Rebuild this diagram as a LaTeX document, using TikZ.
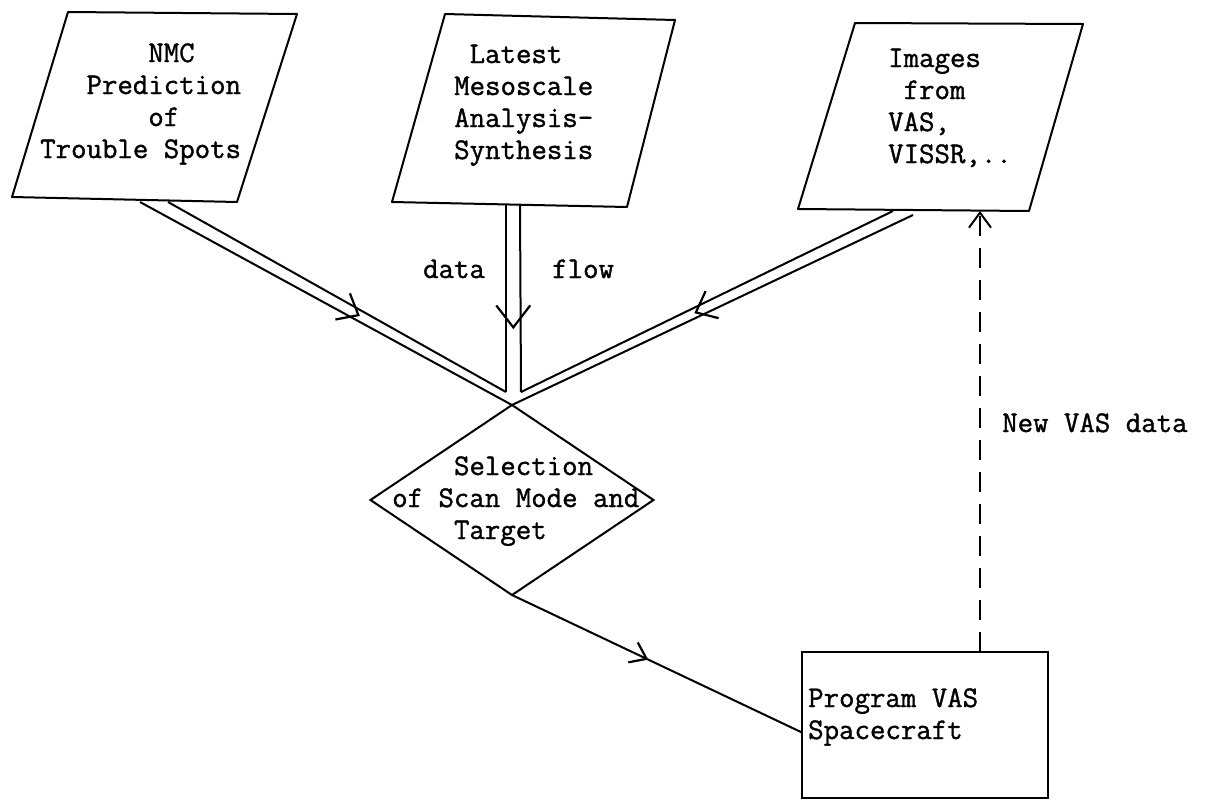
\documentclass[tikz,border=0pt]{standalone}
\usepackage{fontspec}
\newfontfamily\tw{Latin Modern Mono}[FakeBold=1.2]
\usetikzlibrary{arrows.meta,shapes.geometric,decorations.markings,calc}
\newcommand\blk[1]{\vtop{\baselineskip=32pt\lineskiplimit=-50pt #1}}
\newcommand\ind[1]{\phantom{#1}}
\tikzset{
  bb/.tip={Straight Barb[length=18pt,width=30pt]},
  vb/.tip={Straight Barb[length=22pt,width=34pt]},
  sb/.tip={Straight Barb[length=15pt,width=22pt]},
}
\begin{document}
\begin{tikzpicture}[x=1pt,y=-1pt,
  shp/.style={draw, line width=2pt, line join=round},
  flow/.style={line width=2pt},
  txt/.style={inner sep=0pt, anchor=base west, font=\tw\fontsize{30}{32}\selectfont},
  midtip/.style 2 args={postaction={decorate, decoration={markings, mark=at position #1 with {\arrow[line width=2.2pt]{#2}}}}}
]
\useasboundingbox (0,0) rectangle (1211,801);
\fill[white] (0,0) rectangle (1211,801);

% input parallelograms
\draw[shp] (68,12) -- (297,14) -- (237,202) -- (12,197) -- cycle;
\node[txt] (nmc) at (40,62) {\blk{\hbox{\ind{xxxxxxx}NMC}\hbox{\ind{xxx}Prediction}\hbox{\ind{xxxxxxx}of}\hbox{Trouble Spots}}};

\draw[shp] (445,14) -- (675,20) -- (627,207) -- (392,202) -- cycle;
\node[txt] (latest) at (454,63) {\blk{\hbox{\ind{x}Latest}\hbox{Mesoscale}\hbox{Analysis-}\hbox{Synthesis}}};

\draw[shp] (855,23) -- (1083,24) -- (1029,211) -- (798,209) -- cycle;
\node[txt] (images) at (888,67) {\blk{\hbox{Images}\hbox{\ind{x}from}\hbox{VAS,}\hbox{VISSR,..}}};

% decision and process
\node[diamond, draw, line width=2pt, minimum width=283pt, minimum height=190pt, inner sep=0pt, outer sep=0pt] (dia) at (512,500) {};
\node[txt] (diatext) at (392,475) {\blk{\hbox{\ind{xxxx}Selection}\hbox{of Scan Mode and}\hbox{\ind{xxxx}Target}}};

\node[draw, line width=2pt, minimum width=246pt, minimum height=146pt, inner sep=0pt, outer sep=0pt, anchor=north west] (box) at (802,652) {};
\node[txt] (boxtext) at (808,707) {\blk{\hbox{Program VAS}\hbox{Spacecraft}}};

% connector end points
\coordinate (nA) at (140,202);
\coordinate (nB) at (168,202);
\coordinate (lA) at (506,204);
\coordinate (lB) at (520,205);
\coordinate (iA) at (893,211);
\coordinate (iB) at (913,215);
\coordinate (jl) at (506,392);
\coordinate (jr) at (521,392);
\coordinate (imgIn) at (980,211);
\coordinate (boxTop) at ($(box.north west)+(178,0)$);
\coordinate (boxIn) at ([yshift=-7.5pt]box.west);

% double-line data flows
\draw[flow] (nA) -- (dia.north);
\draw[flow] (nB) -- (jl);
\path[midtip={0.58}{bb}] ($(nA)!0.5!(nB)$) -- ($(jl)!0.5!(dia.north)$);

\draw[flow] (lA) -- (jl);
\draw[flow] (lB) -- (jr);
\path[midtip={0.665}{vb}] ($(lA)!0.5!(lB)$) -- ($(jl)!0.5!(jr)$);

\draw[flow] (iA) -- (jr);
\draw[flow] (iB) -- (dia.north);
\path[midtip={0.54}{bb}] ($(iA)!0.5!(iB)$) -- ($(jr)!0.5!(dia.north)$);

\node[txt] (data) at (423,278) {data};
\node[txt] (flowlbl) at (552,278) {flow};

% selection to spacecraft
\draw[flow, midtip={0.47}{sb}] (dia.south) -- (boxIn);

% feedback
\draw[flow, dash pattern=on 20pt off 12pt, -{sb}] (boxTop) -- (imgIn);
\node[txt] (newvas) at (1002,432) {New VAS data};
\end{tikzpicture}
\end{document}
